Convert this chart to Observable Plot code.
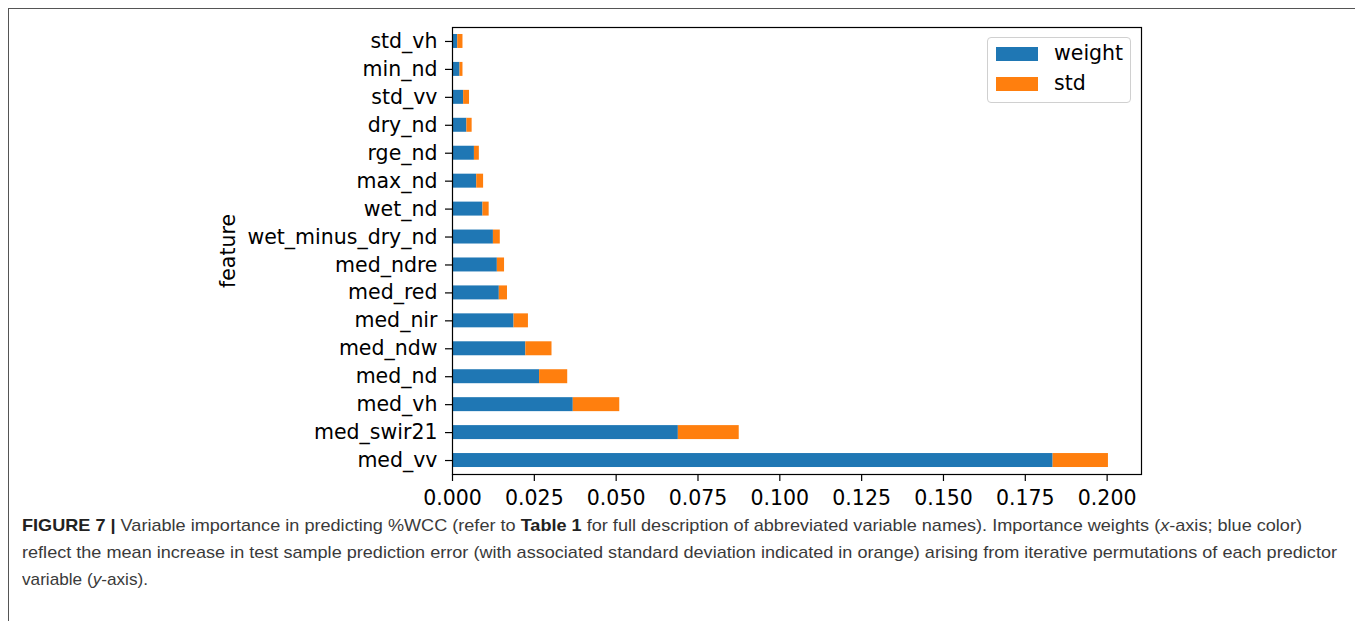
<!DOCTYPE html>
<html><head><meta charset="utf-8">
<script src="https://cdn.jsdelivr.net/npm/d3@7"></script>
<script src="https://cdn.jsdelivr.net/npm/@observablehq/plot@0.6"></script>
<style>
body{margin:0;background:#fff;}
#wrap{position:relative;width:1355px;height:621px;overflow:hidden;background:#fff;}
#border{position:absolute;left:8px;top:8px;width:1400px;height:700px;border-top:1px solid #555;border-left:1px solid #555;}
#chart{position:absolute;left:0;top:0;}
#legend{position:absolute;left:987px;top:37px;width:144px;height:66px;box-sizing:border-box;border:1px solid #d0d0d0;border-radius:4px;background:rgba(255,255,255,0.85);font-family:"DejaVu Sans";font-size:20.5px;color:#000;}
.item{position:absolute;left:8px;height:14px;}
.sw{position:absolute;left:0;top:0;width:42px;height:14px;}
.lab{position:absolute;left:58px;top:-6px;white-space:nowrap;line-height:24px;}
#caption{position:absolute;left:22px;top:512px;font-family:"Liberation Sans Narrow","Liberation Sans",Arial,sans-serif;font-size:17px;line-height:27px;color:#3a3a3a;white-space:nowrap;}
#caption .ln{display:block;transform-origin:0 0;width:max-content;}
#caption b{color:#222;}
</style></head>
<body>
<div id="wrap">
  <div id="border"></div>
  <div id="chart"></div>
  <div id="legend"></div>
  <div id="caption">
    <span class="ln" data-w="1280"><b>FIGURE 7 |</b> Variable importance in predicting %WCC (refer to <b>Table 1</b> for full description of abbreviated variable names). Importance weights (<i>x</i>-axis; blue color)</span>
    <span class="ln" data-w="1315">reflect the mean increase in test sample prediction error (with associated standard deviation indicated in orange) arising from iterative permutations of each predictor</span>
    <span class="ln" data-w="126">variable (<i>y</i>-axis).</span>
  </div>
</div>
<script>
const features = ["std_vh","min_nd","std_vv","dry_nd","rge_nd","max_nd","wet_nd","wet_minus_dry_nd","med_ndre","med_red","med_nir","med_ndw","med_nd","med_vh","med_swir21","med_vv"];
const weight = [0.0016,0.0023,0.0034,0.0044,0.0067,0.0074,0.0093,0.0125,0.0137,0.0143,0.0188,0.0224,0.0266,0.0369,0.0690,0.1835];
const stdev  = [0.0016,0.0009,0.0018,0.0016,0.0015,0.0021,0.0019,0.0021,0.0022,0.0025,0.0044,0.0080,0.0086,0.0142,0.0186,0.0169];
const seriesNames = ["weight","std"];
const seriesColors = ["#1f77b4","#ff7f0e"];
const xTicks = [0,0.025,0.05,0.075,0.1,0.125,0.15,0.175,0.2];

const rows = [];
features.forEach((f,i)=>rows.push({feature:f, series:"weight", value:weight[i]}));
features.forEach((f,i)=>rows.push({feature:f, series:"std", value:stdev[i]}));

const chart = Plot.plot({
  width:1355, height:515,
  marginLeft:452, marginRight:214, marginTop:27, marginBottom:41,
  style:{fontFamily:"DejaVu Sans", fontSize:"20.5px", color:"#000", background:"transparent", overflow:"visible"},
  x:{domain:[0,0.2105]},
  y:{domain:features, paddingInner:0.5, paddingOuter:0.25, round:false},
  color:{domain:seriesNames, range:seriesColors},
  marks:[
    Plot.barX(rows, Plot.stackX({x:"value", y:"feature", fill:"series", order:null})),
    Plot.axisX({ticks:xTicks, tickFormat:d3.format(".3f"), tickSize:7, tickPadding:9, label:null, strokeWidth:1.2}),
    Plot.axisY({tickSize:7, tickPadding:8, label:"feature", labelAnchor:"center", labelOffset:232, labelArrow:"none", strokeWidth:1.2}),
    Plot.frame({stroke:"#000", strokeWidth:1.2})
  ]
});
document.getElementById("chart").appendChild(chart);

const leg = document.getElementById("legend");
seriesNames.forEach((n,i)=>{
  const it = document.createElement("div");
  it.className="item"; it.style.top = (9 + i*30) + "px";
  it.innerHTML = `<div class="sw" style="background:${seriesColors[i]}"></div><div class="lab">${n}</div>`;
  leg.appendChild(it);
});

document.querySelectorAll("#caption .ln").forEach(el=>{
  const w = +el.dataset.w;
  if (w) { const m = el.getBoundingClientRect().width; el.style.transform = `scaleX(${w/m})`; }
});
</script>
</body></html>
